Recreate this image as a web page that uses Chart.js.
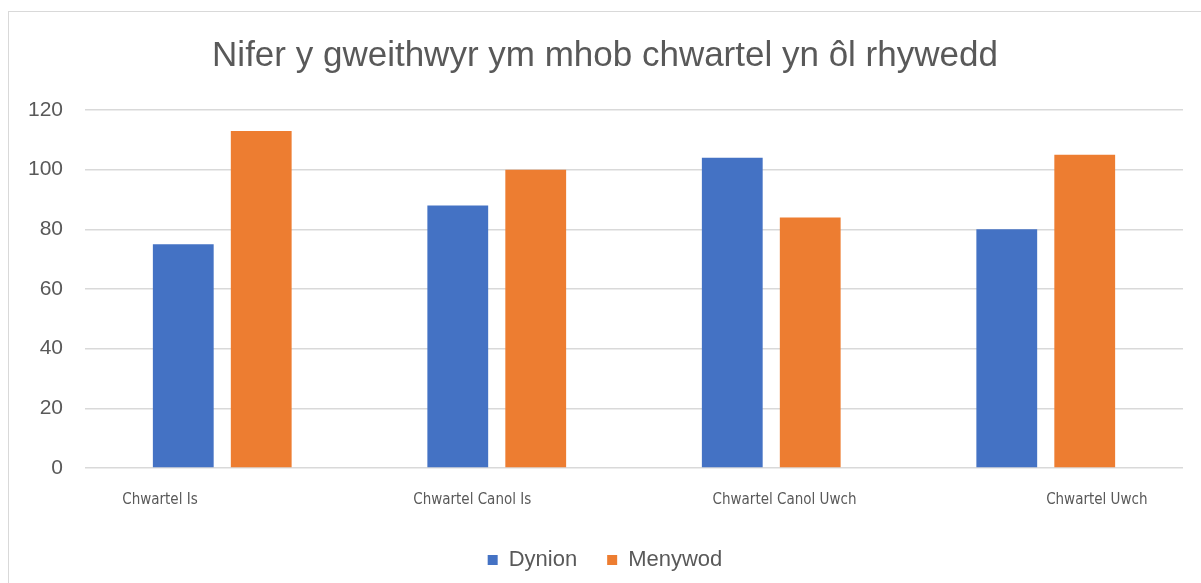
<!DOCTYPE html>
<html>
<head>
<meta charset="utf-8">
<script src="https://cdn.jsdelivr.net/npm/chart.js@4.4.1/dist/chart.umd.min.js"></script>
<style>
  html, body { margin: 0; padding: 0; background: #fff; }
  #frame {
    position: absolute; left: 8px; top: 11px;
    width: 1192px; height: 572px;
    border-left: 1px solid #d9d9d9; border-top: 1px solid #d9d9d9;
  }
</style>
</head>
<body>
<div id="frame"><canvas id="genderChart"></canvas></div>
<script>
const categories = ['Chwartel Is', 'Chwartel Canol Is', 'Chwartel Canol Uwch', 'Chwartel Uwch'];
const dynion = [75, 88, 104, 80];
const menywod = [113, 100, 84, 105];
const yTicks = [0, 20, 40, 60, 80, 100, 120];

const ctx = document.getElementById('genderChart').getContext('2d');
new Chart(ctx, {
    type: 'bar',
    data: {
        labels: categories,
        datasets: [{
            label: 'Dynion',
            data: dynion,
            backgroundColor: '#4472C4',
            barPercentage: 0.78,
            categoryPercentage: 0.568
        }, {
            label: 'Menywod',
            data: menywod,
            backgroundColor: '#ED7D31',
            barPercentage: 0.78,
            categoryPercentage: 0.568
        }]
    },
    options: {
        responsive: true,
        maintainAspectRatio: false,
        animation: false,
        layout: { padding: { left: 18, right: 18, top: 0, bottom: 3 } },
        plugins: {
            title: {
                display: true,
                text: 'Nifer y gweithwyr ym mhob chwartel yn ôl rhywedd',
                color: '#595959',
                font: { family: 'Liberation Sans', size: 35, weight: 'normal', lineHeight: 1.2 },
                padding: { top: 23, bottom: 33 }
            },
            legend: {
                position: 'bottom',
                labels: {
                    usePointStyle: true,
                    pointStyle: 'rect',
                    boxHeight: 10,
                    boxWidth: 10,
                    padding: 30,
                    color: '#595959',
                    font: { family: 'Liberation Sans', size: 22 }
                }
            },
            tooltip: { enabled: false }
        },
        scales: {
            x: {
                display: false
            },
            // category labels sit off-centre in the original, so they get their own axis
            x2: {
                type: 'linear',
                position: 'bottom',
                offset: false,
                min: -0.24,
                max: 3.276,
                grid: { display: false, drawTicks: false },
                border: { display: false },
                afterFit: scale => { scale.height = 51; },
                ticks: {
                    stepSize: 1,
                    includeBounds: false,
                    maxRotation: 0,
                    autoSkip: false,
                    padding: 24,
                    color: '#595959',
                    font: { family: "'DejaVu Sans Condensed', sans-serif", size: 15, lineHeight: 1.067 },
                    callback: v => Number.isInteger(v) ? categories[v] : ''
                }
            },
            y: {
                min: yTicks[0],
                max: yTicks[yTicks.length - 1],
                border: { display: false },
                grid: { color: '#d9d9d9', lineWidth: 1.5, drawTicks: false },
                afterFit: scale => { scale.width = 58; },
                ticks: {
                    stepSize: 20,
                    padding: 22,
                    color: '#595959',
                    font: { family: 'Liberation Sans', size: 21 }
                }
            }
        }
    }
});
</script>
</body>
</html>
